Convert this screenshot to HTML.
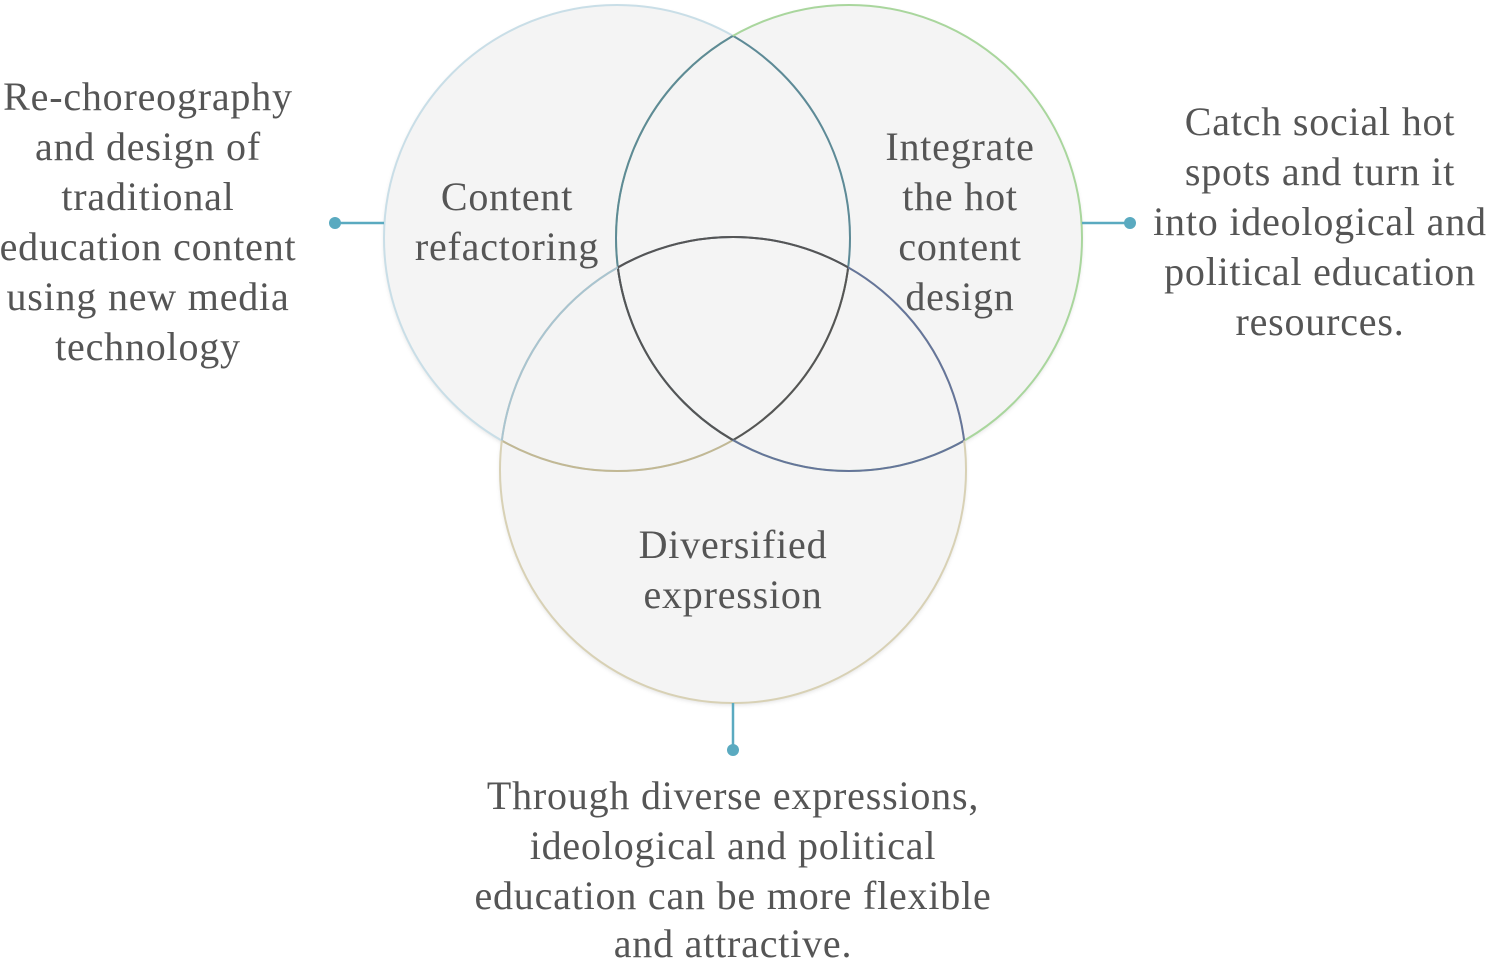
<!DOCTYPE html>
<html><head><style>
body{margin:0;background:#fff;width:1487px;height:960px;overflow:hidden}
svg{position:absolute;left:0;top:0}
text{font-family:"Liberation Serif",serif;font-size:40px;letter-spacing:0.8px;fill:#555;text-anchor:middle}
</style></head><body>
<svg width="1487" height="960" viewBox="0 0 1487 960">
<defs>
<clipPath id="cL"><circle cx="617" cy="238" r="233"/></clipPath>
<clipPath id="cR"><circle cx="849" cy="238" r="233"/></clipPath>
<clipPath id="cB"><circle cx="733" cy="470" r="233"/></clipPath>
<filter id="sh" x="-10%" y="-10%" width="120%" height="120%"><feDropShadow dx="0" dy="2" stdDeviation="2" flood-color="#000" flood-opacity="0.12"/></filter>
</defs>
<g fill="#f4f4f4" filter="url(#sh)">
<circle cx="617" cy="238" r="233"/>
<circle cx="849" cy="238" r="233"/>
<circle cx="733" cy="470" r="233"/>
</g>
<g fill="none" stroke-width="2">
<circle cx="617" cy="238" r="233" stroke="#c9dee7"/>
<g clip-path="url(#cR)"><circle cx="617" cy="238" r="233" stroke="#5e8a96"/></g>
<g clip-path="url(#cB)"><circle cx="617" cy="238" r="233" stroke="#c2b894"/></g>
<g clip-path="url(#cR)"><g clip-path="url(#cB)"><circle cx="617" cy="238" r="233" stroke="#555"/></g></g>
<circle cx="849" cy="238" r="233" stroke="#a9d69d"/>
<g clip-path="url(#cL)"><circle cx="849" cy="238" r="233" stroke="#5e8a96"/></g>
<g clip-path="url(#cB)"><circle cx="849" cy="238" r="233" stroke="#65759a"/></g>
<g clip-path="url(#cL)"><g clip-path="url(#cB)"><circle cx="849" cy="238" r="233" stroke="#555"/></g></g>
<circle cx="733" cy="470" r="233" stroke="#d8d1b5"/>
<g clip-path="url(#cL)"><circle cx="733" cy="470" r="233" stroke="#a9c4d0"/></g>
<g clip-path="url(#cR)"><circle cx="733" cy="470" r="233" stroke="#65759a"/></g>
<g clip-path="url(#cL)"><g clip-path="url(#cR)"><circle cx="733" cy="470" r="233" stroke="#555"/></g></g>
</g>
<g stroke="#5aaac0" stroke-width="2.5" fill="#5aaac0">
<line x1="335" y1="223" x2="384" y2="223"/><circle cx="335" cy="223" r="6" stroke="none"/>
<line x1="1082" y1="223" x2="1130" y2="223"/><circle cx="1130" cy="223" r="6" stroke="none"/>
<line x1="733" y1="703" x2="733" y2="750"/><circle cx="733" cy="750" r="6" stroke="none"/>
</g>
<text x="148" y="110">Re-choreography</text>
<text x="148" y="160">and design of</text>
<text x="148" y="210">traditional</text>
<text x="148" y="260">education content</text>
<text x="148" y="310">using new media</text>
<text x="148" y="360">technology</text>
<text x="1320" y="135">Catch social hot</text>
<text x="1320" y="185">spots and turn it</text>
<text x="1320" y="235">into ideological and</text>
<text x="1320" y="285">political education</text>
<text x="1320" y="335">resources.</text>
<text x="507" y="210">Content</text>
<text x="507" y="260">refactoring</text>
<text x="960" y="160">Integrate</text>
<text x="960" y="210">the hot</text>
<text x="960" y="260">content</text>
<text x="960" y="310">design</text>
<text x="733" y="558">Diversified</text>
<text x="733" y="608">expression</text>
<text x="733" y="809">Through diverse expressions,</text>
<text x="733" y="859">ideological and political</text>
<text x="733" y="909">education can be more flexible</text>
<text x="733" y="957">and attractive.</text>
</svg>
</body></html>
